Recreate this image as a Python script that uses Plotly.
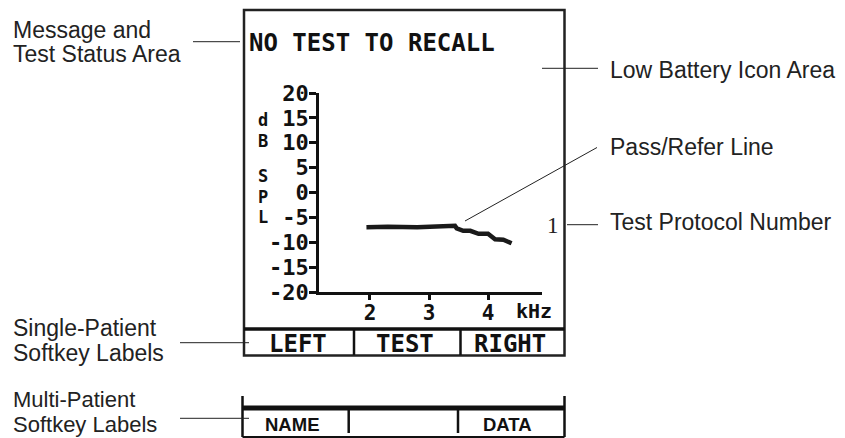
import plotly.graph_objects as go

W, H = 845, 438

# ---- data ----
freq_khz = [1.94, 2.30, 2.80, 3.20, 3.44, 3.47, 3.58, 3.70, 3.78, 3.84, 4.00, 4.06, 4.12, 4.26, 4.34, 4.40]
level_db = [-7.0, -6.9, -7.0, -6.8, -6.7, -7.2, -7.7, -7.7, -8.1, -8.3, -8.3, -8.9, -9.4, -9.5, -9.8, -10.2]
y_ticks = [20, 15, 10, 5, 0, -5, -10, -15, -20]
y_tick_labels = ["20", "15", "10", "5", "0", "-5", "-10", "-15", "-20"]
x_ticks = [2, 3, 4]
x_tick_labels = ["2", "3", "4"]
softkeys_single = ["LEFT", "TEST", "RIGHT"]
softkeys_multi = ["NAME", "", "DATA"]
y_title_letters = ["d", "B", "S", "P", "L"]
status_text = "NO TEST TO RECALL"
protocol_number = "1"

def px(x):
    return x / W

def py(y):
    return 1 - y / H

LCD = "DejaVu Sans Mono, monospace"
SANS = "Liberation Sans, Arial, sans-serif"

fig = go.Figure()
fig.add_trace(go.Scatter(x=freq_khz, y=level_db, mode="lines",
                         line=dict(color="#1a1a1a", width=4.5), hoverinfo="skip",
                         showlegend=False))

fig.update_layout(
    width=W, height=H, margin=dict(l=0, r=0, t=0, b=0, pad=0, autoexpand=False),
    paper_bgcolor="white", plot_bgcolor="white", showlegend=False,
    xaxis=dict(domain=[px(319), px(542)], range=[1.136, 4.915],
               showline=True, linecolor="#111", linewidth=2.5,
               ticks="outside", ticklen=5, tickwidth=2.5, tickcolor="#111",
               tickvals=x_ticks, ticktext=x_tick_labels, ticklabelstandoff=-5,
               tickfont=dict(family=LCD, size=21, color="#111", weight="bold"),
               showgrid=False, zeroline=False, fixedrange=True, automargin=False),
    yaxis=dict(domain=[py(292), py(93)], range=[-20, 20],
               showline=True, linecolor="#111", linewidth=2.5,
               ticks="outside", ticklen=7, tickwidth=2.5, tickcolor="#111",
               tickvals=y_ticks, ticktext=y_tick_labels, ticklabelstandoff=-4,
               tickfont=dict(family=LCD, size=22, color="#111", weight="bold"),
               showgrid=False, zeroline=False, fixedrange=True, automargin=False),
)

shapes = []
def line(x0, y0, x1, y1, w=1.0, color="#222"):
    shapes.append(dict(type="line", xref="paper", yref="paper",
                       x0=px(x0), y0=py(y0), x1=px(x1), y1=py(y1),
                       line=dict(color=color, width=w)))

# screen frame
shapes.append(dict(type="rect", xref="paper", yref="paper",
                   x0=px(244), y0=py(355.5), x1=px(564.5), y1=py(10),
                   line=dict(color="#222", width=2.5)))
line(244, 329, 564.5, 329, 3.5, "#111")
line(354, 329, 354, 355, 2.5, "#111")
line(460.5, 329, 460.5, 355, 2.5, "#111")

# multi-patient softkey bar
line(242.5, 396, 242.5, 437, 2.5, "#111")
line(564.5, 396, 564.5, 437, 2.5, "#111")
line(242.5, 408, 564.5, 408, 5, "#111")
line(242.5, 437, 564.5, 437, 2, "#111")
line(348.7, 410, 348.7, 433, 2.5, "#111")
line(458, 410, 458, 433, 2.5, "#111")

# leader lines
line(193, 41.7, 240, 41.7)
line(542, 68.3, 598, 68.3)
line(465, 221, 597, 147.5)
line(567, 224.7, 598, 224.7)
line(180, 342.7, 249, 342.7)
line(180, 418.3, 249, 418.3)

fig.update_layout(shapes=shapes)

ann = []
def text(t, x, y, size, family=SANS, xanchor="left", weight="normal", color="#222",
         height=None):
    a = dict(text=t, x=px(x), y=py(y), xref="paper", yref="paper",
             xanchor=xanchor, yanchor="middle", showarrow=False, borderpad=0,
             font=dict(family=family, size=size, color=color, weight=weight))
    if height:
        a["height"] = height
    ann.append(a)

# side labels
text("Message and", 12, 29.5, 23)
text("Test Status Area", 12, 54, 23)
text("Low Battery Icon Area", 609, 69.5, 23)
text("Pass/Refer Line", 609, 147, 23)
text("Test Protocol Number", 609, 221.5, 23)
text("Single-Patient", 12, 328, 23)
text("Softkey Labels", 12, 352.5, 23)
text("Multi-Patient", 12, 399.5, 22)
text("Softkey Labels", 12, 424.5, 22)
text(protocol_number, 553, 225, 23, family="Liberation Serif, Times New Roman, serif",
     xanchor="center")

# LCD texts
text(status_text, 248, 43, 24, family=LCD, weight="bold", color="#111")
for letter, yy in zip(y_title_letters, [120, 140.5, 176, 196.5, 217]):
    text(letter, 263, yy, 17, family=LCD, xanchor="center", weight="bold",
         color="#111", height=20)
text("kHz", 534, 310.5, 20, family=LCD, xanchor="center", weight="bold", color="#111")
for lab, xx in zip(softkeys_single, [298, 405, 510]):
    text(lab, xx, 343.5, 24, family=LCD, xanchor="center", weight="bold", color="#111")
for lab, xx in zip(softkeys_multi, [291.7, 403, 507.5]):
    if lab:
        text(lab, xx, 424.3, 18.5, family=SANS, xanchor="center", weight="bold", color="#111")

fig.update_layout(annotations=ann)
fig.write_html("out.html", config={"displayModeBar": False},
               post_script="document.body.style.margin='0';")
